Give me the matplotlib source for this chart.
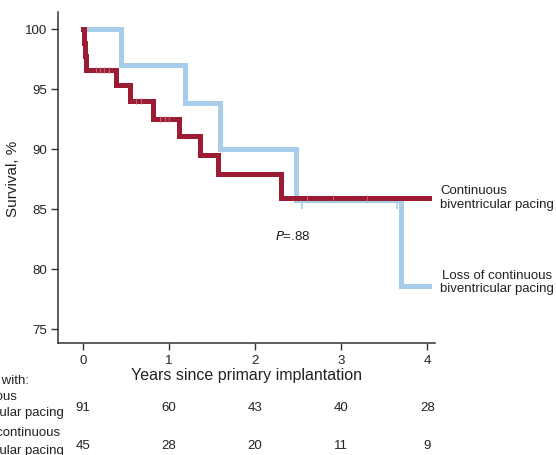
import numpy as np
import matplotlib
matplotlib.use("Agg")
import matplotlib.pyplot as plt
import matplotlib.transforms as mtransforms

plt.rcParams['font.family'] = ['Liberation Sans', 'DejaVu Sans']

# Kaplan-Meier steps (years, survival %)
cont_t = [0, 0.01, 0.025, 0.04, 0.38, 0.55, 0.81, 1.12, 1.36, 1.57, 2.30, 4.02]
cont_s = [100, 98.8, 97.7, 96.6, 95.3, 94.0, 92.5, 91.1, 89.5, 87.9, 85.9, 85.9]
loss_t = [0, 0.44, 1.19, 1.59, 2.48, 3.70, 4.02]
loss_s = [100, 97.0, 93.8, 90.0, 85.7, 78.6, 78.6]

# censor marks
cont_cens_t = [0.15, 0.2, 0.25, 0.3, 0.62, 0.68, 0.9, 0.95, 1.0, 2.6, 2.9, 3.3]
cont_cens_s = [96.6, 96.6, 96.6, 96.6, 94.0, 94.0, 92.5, 92.5, 92.5, 85.9, 85.9, 85.9]
loss_cens_t = [2.55, 3.65]
loss_cens_s = [85.7, 85.7]

years = [0, 1, 2, 3, 4]
at_risk_cont = [91, 60, 43, 40, 28]
at_risk_loss = [45, 28, 20, 11, 9]

red = '#9b1c33'
blue = '#a8cdea'
grey = '#333333'
txt = '#222222'
fs = 9.5

fig = plt.figure(figsize=(5.56, 4.56), dpi=100)
ax = fig.add_axes([58 / 556, 1 - 344 / 456, (435 - 58) / 556, (344 - 13) / 456])

ax.step(loss_t, loss_s, where='post', color=blue, lw=3.6, solid_joinstyle='miter', zorder=2)
ax.step(cont_t, cont_s, where='post', color=red, lw=3.6, solid_joinstyle='miter', zorder=3)
ax.plot(loss_cens_t, np.array(loss_cens_s) - 0.45, ls='none', marker='|', ms=4, mew=1.2, color=blue, zorder=2)
ax.plot(cont_cens_t, cont_cens_s, ls='none', marker='|', ms=5, mew=0.8, color='#c0606f', zorder=4)

ax.set_xlim(-0.29, 4.09)
ax.set_ylim(73.83, 101.4)
ax.set_xticks(years)
ax.set_yticks([75, 80, 85, 90, 95, 100])
for s in ['top', 'right']:
    ax.spines[s].set_visible(False)
for s in ['left', 'bottom']:
    ax.spines[s].set_color(grey)
    ax.spines[s].set_linewidth(1.1)
ax.tick_params(colors=grey, labelcolor=txt, labelsize=fs, length=5, width=1, direction='out', pad=3)
ax.set_ylabel('Survival, %', fontsize=11, color=txt, labelpad=3)
ax.set_xlabel('Years since primary implantation', fontsize=11.5, color=txt, labelpad=1)

ax.text(2.23, 87.9 - (236.7 - 175) / 12, '$\\it{P}$=.88', fontsize=fs, ha='left', va='center', color=txt)
ax.text(4.15, 85.9 + 0.1, 'Continuous\nbiventricular pacing', fontsize=fs, ha='left', va='center',
        color=txt, linespacing=1.2, clip_on=False)
ax.text(4.15, 100 - (282.5 - 30) / 12, 'Loss of continuous\nbiventricular pacing', fontsize=fs, ha='left',
        va='center', multialignment='center', color=txt, linespacing=1.2, clip_on=False)

# numbers at risk
trans = mtransforms.blended_transform_factory(ax.transData, fig.transFigure)
for x, a, b in zip(years, at_risk_cont, at_risk_loss):
    ax.text(x, 1 - 408 / 456, str(a), transform=trans, ha='center', va='center', fontsize=fs,
            color=txt, clip_on=False)
    ax.text(x, 1 - 446 / 456, str(b), transform=trans, ha='center', va='center', fontsize=fs,
            color=txt, clip_on=False)

lx = -50 / 556
fig.text(lx, 1 - 381 / 456, 'Patients with:', ha='left', va='center', fontsize=fs, color=txt)
fig.text(lx, 1 - 397 / 456, 'Continuous', ha='left', va='center', fontsize=fs, color=txt)
fig.text(lx, 1 - 413 / 456, 'biventricular pacing', ha='left', va='center', fontsize=fs, color=txt)
fig.text(lx, 1 - 433 / 456, 'Loss of continuous', ha='left', va='center', fontsize=fs, color=txt)
fig.text(lx, 1 - 451 / 456, 'biventricular pacing', ha='left', va='center', fontsize=fs, color=txt)

fig.savefig('out.png', dpi=100)
